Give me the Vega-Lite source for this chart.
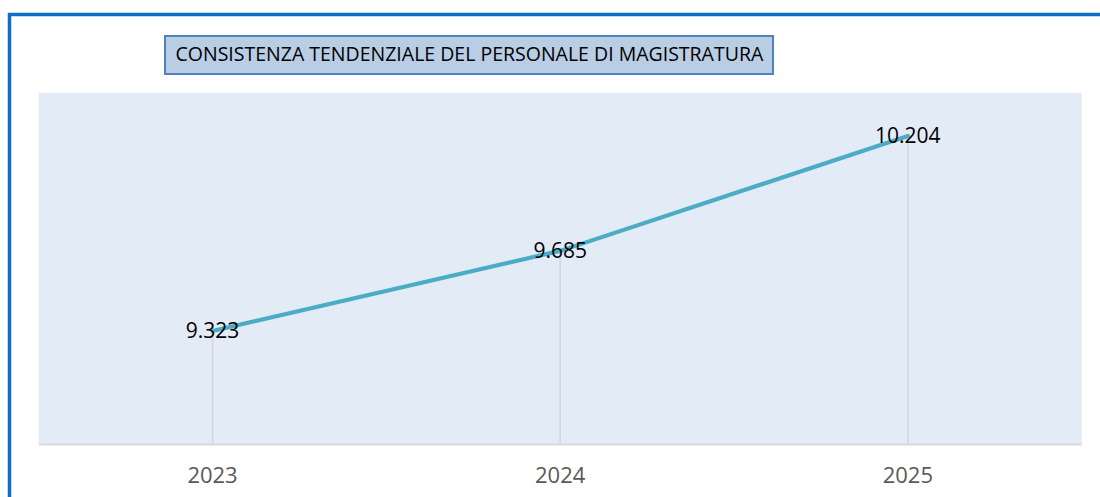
{
  "$schema": "https://vega.github.io/schema/vega-lite/v6.json",
  "width": 1100,
  "height": 490,
  "autosize": {"type": "none"},
  "padding": {"left": 9.5, "top": 14.5, "right": 0, "bottom": 0},
  "background": "white",
  "config": {
    "view": {"stroke": "#0F6FC6", "strokeWidth": 3.5, "fill": "white"},
    "locale": {"number": {"decimal": ",", "thousands": ".", "grouping": [3], "currency": ["€", ""]}},
    "font": "Open Sans"
  },
  "data": {"values": [
    {"anno": 2023, "valore": 9323, "serie": "CONSISTENZA TENDENZIALE DEL PERSONALE DI MAGISTRATURA"},
    {"anno": 2024, "valore": 9685, "serie": "CONSISTENZA TENDENZIALE DEL PERSONALE DI MAGISTRATURA"},
    {"anno": 2025, "valore": 10204, "serie": "CONSISTENZA TENDENZIALE DEL PERSONALE DI MAGISTRATURA"}
  ]},
  "layer": [
    {
      "data": {"values": [{}]},
      "mark": {"type": "rect", "color": "#E3EBF7"},
      "encoding": {
        "x": {"datum": 2022.5, "type": "quantitative", "scale": {"domain": [2022.416, 2025.58], "nice": false, "zero": false}, "axis": null},
        "x2": {"datum": 2025.5},
        "y": {"datum": 8810, "type": "quantitative", "scale": {"domain": [8539, 10753], "nice": false, "zero": false}, "axis": null},
        "y2": {"datum": 10400}
      }
    },
    {
      "data": {"values": [{}]},
      "mark": {"type": "rule", "color": "#D9D9D9", "strokeWidth": 2},
      "encoding": {
        "x": {"datum": 2022.5, "type": "quantitative", "scale": {"domain": [2022.416, 2025.58], "nice": false, "zero": false}, "axis": null},
        "x2": {"datum": 2025.5},
        "y": {"datum": 8810, "type": "quantitative", "scale": {"domain": [8539, 10753], "nice": false, "zero": false}, "axis": null}
      }
    },
    {
      "mark": {"type": "rule", "color": "#D2D6DE", "strokeWidth": 1.5},
      "encoding": {
        "x": {"field": "anno", "type": "quantitative", "scale": {"domain": [2022.416, 2025.58], "nice": false, "zero": false}, "axis": null},
        "y": {"field": "valore", "type": "quantitative", "scale": {"domain": [8539, 10753], "nice": false, "zero": false}, "axis": null},
        "y2": {"datum": 8810}
      }
    },
    {
      "mark": {"type": "line", "interpolate": "linear", "strokeWidth": 4.2, "strokeCap": "round", "strokeJoin": "round"},
      "encoding": {
        "x": {"field": "anno", "type": "quantitative", "scale": {"domain": [2022.416, 2025.58], "nice": false, "zero": false}, "axis": null},
        "y": {"field": "valore", "type": "quantitative", "scale": {"domain": [8539, 10753], "nice": false, "zero": false}, "axis": null},
        "color": {
          "field": "serie",
          "type": "nominal",
          "scale": {"range": ["#4BACC6"]},
          "legend": {
            "orient": "none",
            "legendX": 155.5,
            "legendY": 21.5,
            "title": null,
            "fillColor": "#B9CDE5",
            "strokeColor": "#4F81BD",
            "padding": 9,
            "symbolSize": 0,
            "symbolOpacity": 0,
            "symbolStrokeWidth": 0,
            "labelOffset": -18,
            "labelFont": "Open Sans",
            "labelFontSize": 19.5,
            "labelColor": "#000000",
            "labelLimit": 0,
            "encode": {"legend": {"update": {"strokeWidth": {"value": 2}}}}
          }
        }
      }
    },
    {
      "mark": {"type": "text", "baseline": "middle", "align": "center", "fontSize": 21, "color": "#000000", "font": "Open Sans", "dy": 1},
      "encoding": {
        "x": {"field": "anno", "type": "quantitative", "scale": {"domain": [2022.416, 2025.58], "nice": false, "zero": false}, "axis": null},
        "y": {"field": "valore", "type": "quantitative", "scale": {"domain": [8539, 10753], "nice": false, "zero": false}, "axis": null},
        "text": {"field": "valore", "type": "quantitative", "format": ",.0f"}
      }
    },
    {
      "mark": {"type": "text", "baseline": "middle", "align": "center", "fontSize": 22, "color": "#595959", "font": "Open Sans", "dy": 31},
      "encoding": {
        "x": {"field": "anno", "type": "quantitative", "scale": {"domain": [2022.416, 2025.58], "nice": false, "zero": false}, "axis": null},
        "y": {"datum": 8810, "type": "quantitative", "scale": {"domain": [8539, 10753], "nice": false, "zero": false}, "axis": null},
        "text": {"field": "anno", "type": "quantitative", "format": "d"}
      }
    }
  ]
}
